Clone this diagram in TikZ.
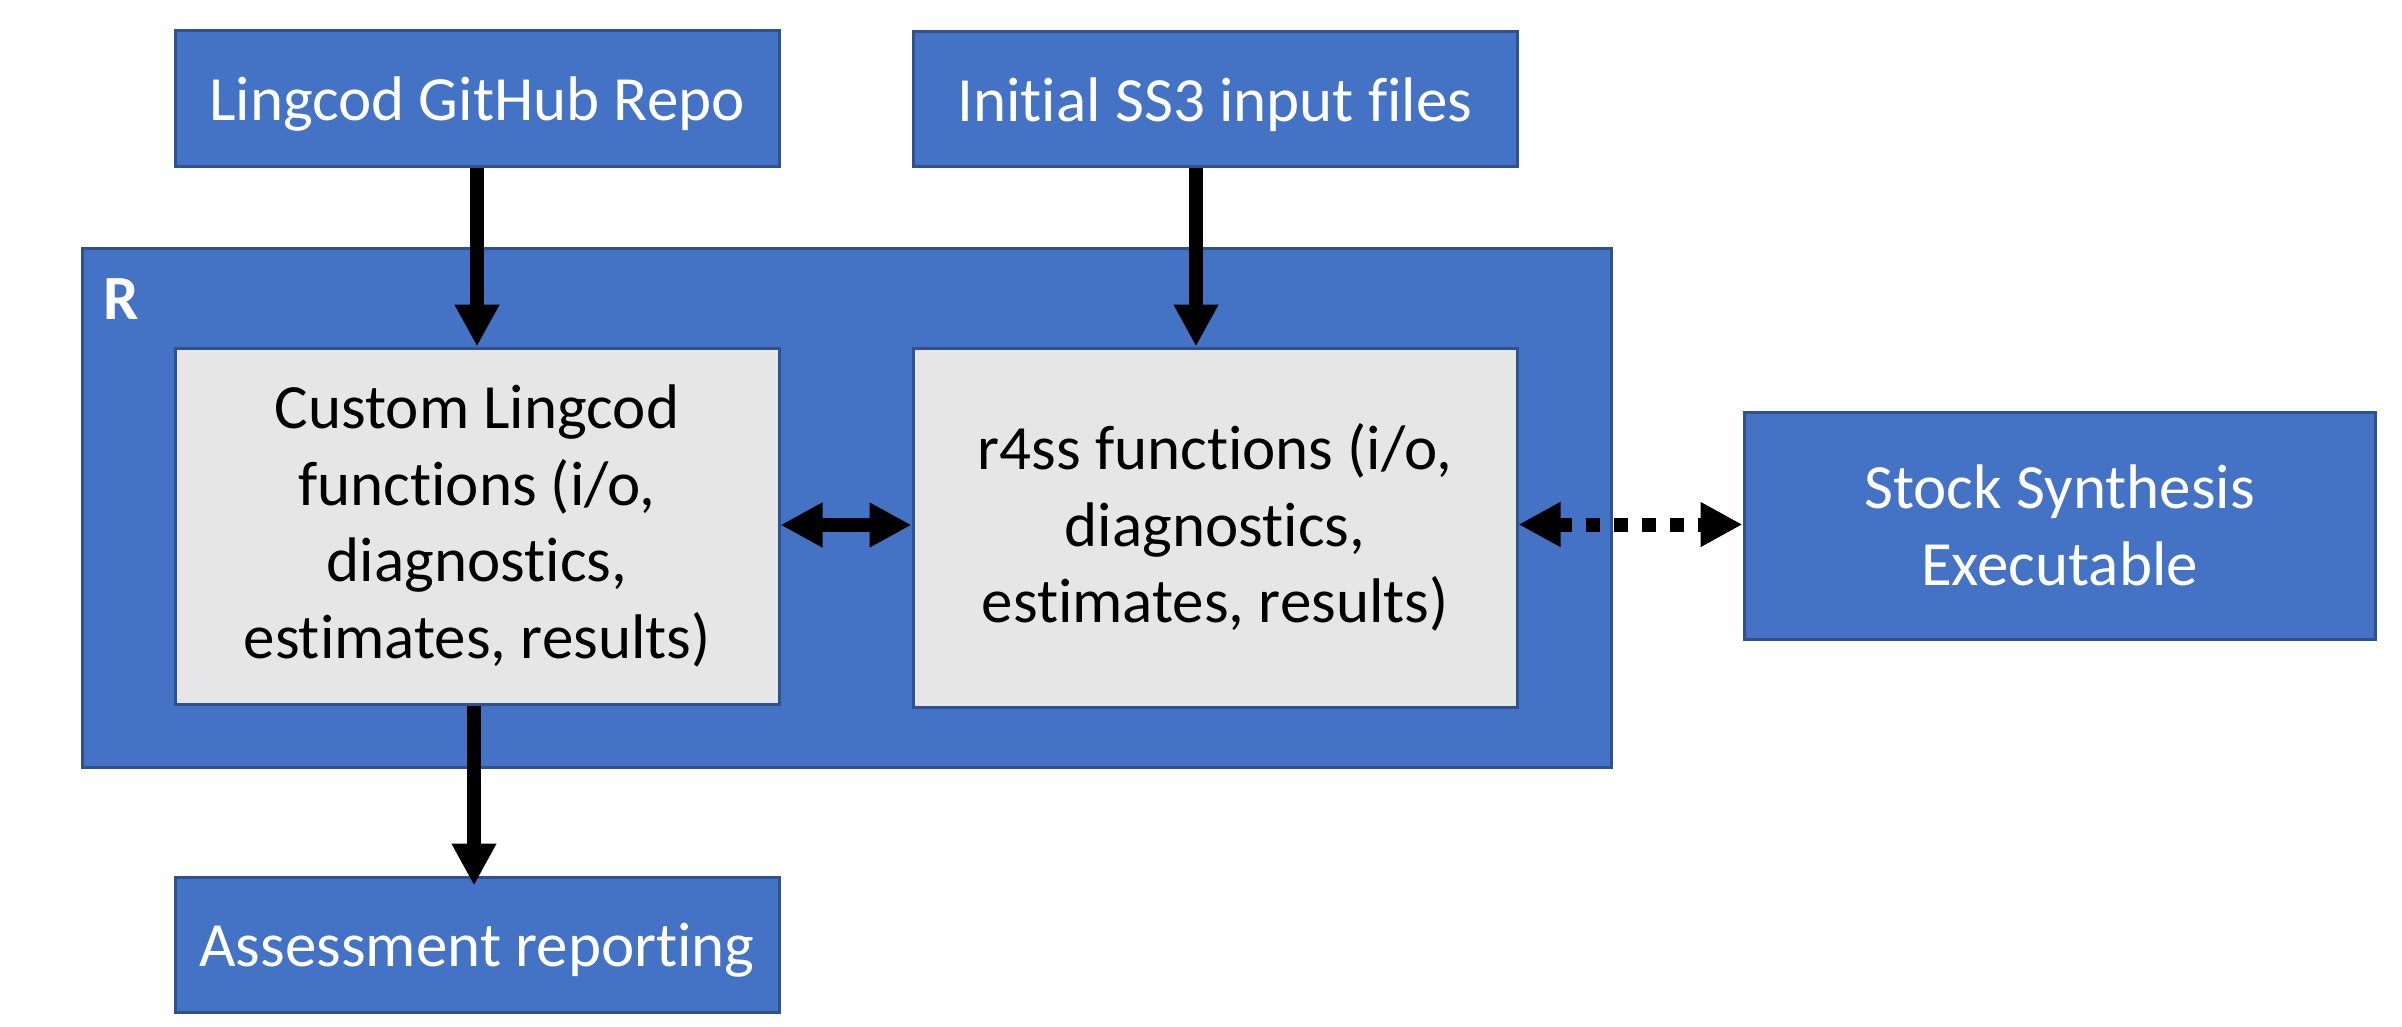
\documentclass[tikz,border=0pt]{standalone}
\usepackage{fontspec}
\setmainfont[Ligatures={NoCommon,NoContextual,NoRequired}, Contextuals={NoAlternate}]{Carlito}
\usetikzlibrary{arrows.meta,calc}
\definecolor{oblue}{HTML}{4472C4}
\definecolor{oborder}{HTML}{2F528F}
\definecolor{ogray}{HTML}{E7E6E6}
\begin{document}
\begin{tikzpicture}[x=0.5pt,y=-0.5pt,
  boxbase/.style={draw=oborder, line width=1.5pt, inner sep=0pt, align=center,
    font=\fontsize{31.5}{38.2}\selectfont},
  bluebox/.style={boxbase, fill=oblue, text=white},
  graybox/.style={boxbase, fill=ogray, text=black},
  oneline/.style={text height=22pt, text depth=0pt},
  tip/.tip={Triangle[length=21pt,width=21pt]},
  arr/.style={line width=7pt, -tip},
  darr/.style={line width=7pt, tip-tip},
  dotarr/.style={line width=7pt, tip-tip, dash pattern=on 7pt off 7pt}
]
\useasboundingbox (0,0) rectangle (2402,1027);
\node[bluebox, oneline, minimum width=302pt, minimum height=68pt] (ling) at (477,99) {Lingcod GitHub Repo};
\node[bluebox, oneline, minimum width=302pt, minimum height=67.5pt] (init) at (1215,99.5) {Initial SS3 input files};
\node[bluebox, minimum width=764.5pt, minimum height=259pt] (R) at (846.5,508) {};
\node[anchor=base west, text=white, inner sep=0pt, font=\fontsize{31.5}{38.2}\selectfont\bfseries] (rlab) at (103,319) {R};
\node[graybox, minimum width=302pt, minimum height=178pt] (custom) at (477,526) {Custom Lingcod\\functions (i/o,\\diagnostics,\\estimates, results)};
\node[graybox, minimum width=302pt, minimum height=179.5pt] (r4ss) at (1215,527.5) {r4ss functions (i/o,\\diagnostics,\\estimates, results)};
\node[bluebox, minimum width=315.5pt, minimum height=113.5pt] (stock) at (2059.5,525.5) {Stock Synthesis\\Executable};
\node[bluebox, oneline, minimum width=302pt, minimum height=67.5pt] (assess) at (477,944.5) {Assessment reporting};

\draw[arr] (ling.south) -- (custom.north);
\draw[arr] ([xshift=-9.5pt]init.south) -- ([xshift=-9.5pt]r4ss.north);
\draw[arr] ([xshift=-1.5pt]custom.south) -- ([xshift=-1.5pt,yshift=-5pt]assess.north);
\draw[darr] ([yshift=0.5pt]custom.east) -- ([yshift=0.5pt]custom.east -| r4ss.west);
\draw[dotarr] ([yshift=1.5pt]r4ss.east) -- ([yshift=1.5pt]r4ss.east -| stock.west);
\end{tikzpicture}
\end{document}
